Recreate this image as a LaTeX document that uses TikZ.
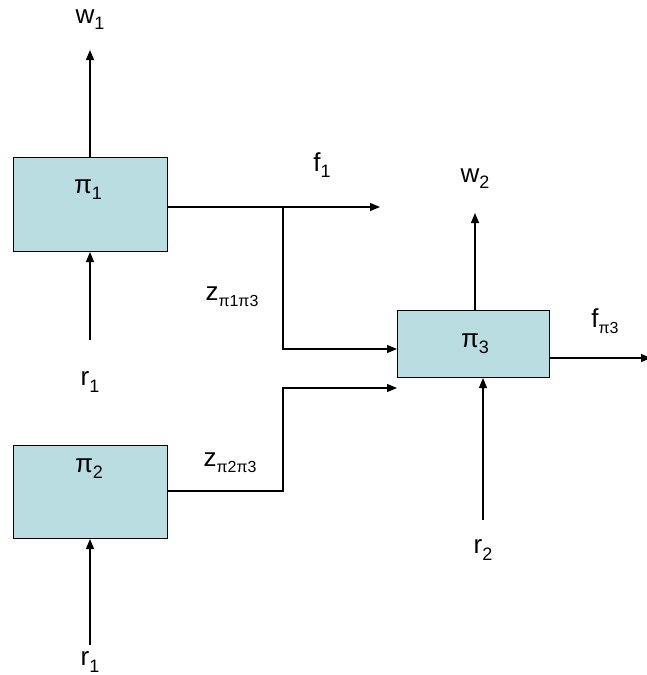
\documentclass[tikz,border=0pt]{standalone}
\usepackage{fontspec}
\setmainfont{Liberation Sans}
\usetikzlibrary{arrows.meta}
\newcommand{\lsub}[1]{\raisebox{-0.45ex}{\fontsize{18}{18}\selectfont #1}}
\newcommand{\ssub}[1]{\raisebox{-0.45ex}{\fontsize{16}{16}\selectfont #1}}
\tikzset{
  proc/.style={draw=black, line width=1pt, fill={rgb,255:red,185;green,221;blue,225}},
  lbl/.style={font=\fontsize{26}{26}\selectfont, inner sep=0pt},
  conn/.style={line width=1.1pt, -{Triangle[length=10pt,width=8pt]}},
}
\begin{document}
\begin{tikzpicture}[x=1pt,y=-1pt]
\useasboundingbox (0,0) rectangle (647,675);
% boxes
\node[proc, minimum width=154pt, minimum height=94pt, anchor=north west] (p1) at (13,157) {};
\node[proc, minimum width=154pt, minimum height=93pt, anchor=north west] (p2) at (13,445) {};
\node[proc, minimum width=152pt, minimum height=67pt, anchor=north west] (p3) at (397,310) {};
\node[lbl] (t1) at (88,190) {π\lsub{1}};
\node[lbl] (t2) at (89,469) {π\lsub{2}};
\node[lbl] (t3) at (475,344) {π\lsub{3}};
% labels
\node[lbl] (w1) at (90,20) {w\lsub{1}};
\node[lbl] (r1a) at (90,382) {r\lsub{1}};
\node[lbl] (r1b) at (90,662) {r\lsub{1}};
\node[lbl] (f1) at (322,165) {f\lsub{1}};
\node[lbl] (w2) at (475,179) {w\lsub{2}};
\node[lbl] (fp3) at (605,321) {f\ssub{π3}};
\node[lbl] (r2) at (483,550) {r\lsub{2}};
\node[lbl] (z13) at (232,297) {z\ssub{π1π3}};
\node[lbl] (z23) at (230,463) {z\ssub{π2π3}};
% coordinates
\coordinate (w1e) at (90,50);
\coordinate (r1s) at (90,340);
\coordinate (r1bs) at (90,645);
\coordinate (f1e) at (380,207);
\coordinate (j1) at (283,207);
\coordinate (w2e) at (475,213);
\coordinate (fp3e) at (651,358);
\coordinate (r2s) at (483,520);
% connectors
\draw[conn] (p1.north -| w1e) -- (w1e);
\draw[conn] (r1s) -- (r1s |- p1.south);
\draw[conn] (r1bs) -- (r1bs |- p2.south);
\draw[conn] (p1.east |- f1e) -- (f1e);
\draw[conn] (j1) -- (283,349) -- (p3.west |- 0,349);
\draw[conn] (p2.east |- 0,491) -- (283,491) -- (283,388) -- (p3.west |- 0,388);
\draw[conn] (p3.north -| w2e) -- (w2e);
\draw[conn] (p3.east |- fp3e) -- (fp3e);
\draw[conn] (r2s) -- (r2s |- p3.south);
\end{tikzpicture}
\end{document}
